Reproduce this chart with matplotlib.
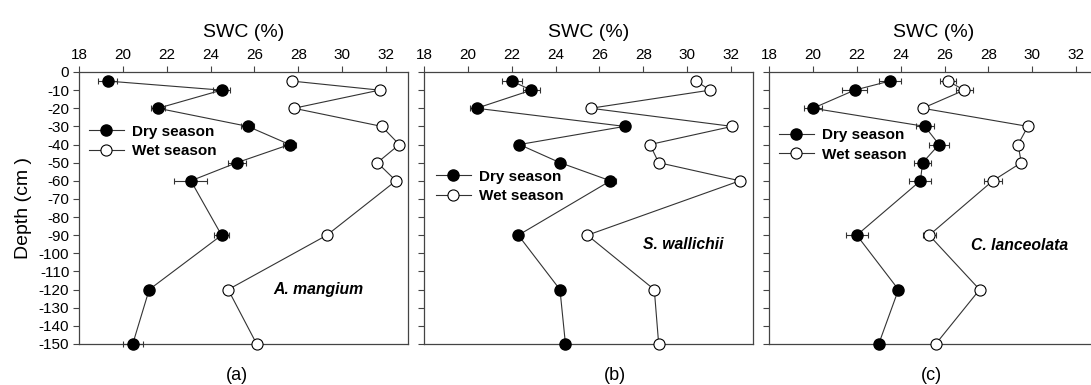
import matplotlib
matplotlib.use("Agg")
import matplotlib.pyplot as plt
from matplotlib.lines import Line2D

plt.rcParams["font.family"] = ["Liberation Sans", "DejaVu Sans"]
plt.rcParams["axes.unicode_minus"] = False

# depth of each sampling layer (cm)
depth = [-5, -10, -20, -30, -40, -50, -60, -90, -120, -150]

# soil water content (%)
dry_a = [19.3, 24.5, 21.6, 25.7, 27.6, 25.2, 23.1, 24.5, 21.2, 20.45]
dry_a_err = [0.45, 0.4, 0.3, 0.3, 0.3, 0.4, 0.75, 0.35, 0.15, 0.45]
wet_a = [27.7, 31.7, 27.8, 31.8, 32.6, 31.6, 32.45, 29.3, 24.8, 26.1]
wet_a_err = [0.1, 0.1, 0.1, 0.1, 0.1, 0.1, 0.1, 0.1, 0.1, 0.1]

dry_b = [22.0, 22.9, 20.4, 27.15, 22.35, 24.2, 26.5, 22.3, 24.2, 24.45]
dry_b_err = [0.45, 0.38, 0.3, 0.15, 0.15, 0.1, 0.25, 0.1, 0.15, 0.2]
wet_b = [30.4, 31.05, 25.6, 32.05, 28.3, 28.7, 32.4, 25.45, 28.5, 28.7]
wet_b_err = [0.1, 0.1, 0.1, 0.1, 0.1, 0.1, 0.1, 0.1, 0.1, 0.1]

dry_c = [23.5, 21.9, 20.0, 25.1, 25.75, 25.0, 24.9, 22.0, 23.9, 23.0]
dry_c_err = [0.5, 0.58, 0.42, 0.4, 0.45, 0.4, 0.5, 0.5, 0.1, 0.1]
wet_c = [26.15, 26.9, 25.0, 29.8, 29.35, 29.5, 28.2, 25.3, 27.6, 25.6]
wet_c_err = [0.35, 0.4, 0.1, 0.1, 0.1, 0.1, 0.4, 0.3, 0.1, 0.1]

species = ["A. mangium", "S. wallichii", "C. lanceolata"]
panel_tags = ["(a)", "(b)", "(c)"]
x_ticks = [18, 20, 22, 24, 26, 28, 30, 32]
y_ticks = list(range(0, -151, -10))

fig = plt.figure(figsize=(10.91, 3.85), dpi=100)

lefts = [0.0724, 0.3886, 0.7049]
ax_w, ax_b, ax_h = 0.3016, 0.1065, 0.7065

legend_pos = [(0.03, 0.745), (0.036, 0.58), (0.03, 0.732)]
species_pos = [(26.86, -120), (28.0, -95), (27.2, -95.5)]
tag_x = [25.2, 26.7, 25.4]

data = [(dry_a, dry_a_err, wet_a, wet_a_err),
        (dry_b, dry_b_err, wet_b, wet_b_err),
        (dry_c, dry_c_err, wet_c, wet_c_err)]

line_col = "#333333"
spine_col = "#444444"
ms = 8

# legend shows plain line + marker, no error bar
handles = [Line2D([], [], color=line_col, lw=0.8, marker="o", ms=ms,
                  mfc="black", mec="black"),
           Line2D([], [], color=line_col, lw=0.8, marker="o", ms=ms,
                  mfc="white", mec="black", mew=0.8)]

for i, (dry, dry_err, wet, wet_err) in enumerate(data):
    ax = fig.add_axes([lefts[i], ax_b, ax_w, ax_h])

    ax.errorbar(dry, depth, xerr=dry_err, fmt="-o", color=line_col, lw=0.8,
                mfc="black", mec="black", ms=ms, ecolor="#333333",
                elinewidth=0.8, capsize=2.5, capthick=0.8,
                clip_on=False, zorder=3)
    ax.errorbar(wet, depth, xerr=wet_err, fmt="-o", color=line_col, lw=0.8,
                mfc="white", mec="black", mew=0.8, ms=ms, ecolor="#333333",
                elinewidth=0.8, capsize=2.5, capthick=0.8,
                clip_on=False, zorder=3)

    ax.set_xlim(18, 33)
    ax.set_ylim(-150, 0)
    ax.set_xticks(x_ticks)
    ax.set_yticks(y_ticks)
    ax.xaxis.tick_top()
    ax.xaxis.set_label_position("top")
    ax.set_xlabel("SWC (%)", fontsize=14, labelpad=8)
    ax.tick_params(axis="both", direction="out", length=4, width=0.8,
                   color=spine_col, labelsize=11, pad=3)
    for sp in ax.spines.values():
        sp.set_color(spine_col)
        sp.set_linewidth(0.9)

    if i == 0:
        ax.set_ylabel("Depth (cm )", fontsize=14)
        ax.yaxis.set_label_coords(-0.143, 0.5)
    else:
        ax.set_yticklabels([])

    ax.legend(handles, ["Dry season", "Wet season"], loc="center left",
              bbox_to_anchor=legend_pos[i], frameon=False,
              prop={"weight": "bold", "size": 11}, handlelength=2.3,
              handletextpad=0.5, labelspacing=0.35, borderpad=0,
              borderaxespad=0)

    sx, sy = species_pos[i]
    ax.text(sx, sy, species[i], fontsize=11.3, fontweight="bold",
            fontstyle="italic", va="center", ha="left")

    ax.text(tag_x[i], -0.114, panel_tags[i], fontsize=13, ha="center",
            va="center", transform=ax.get_xaxis_transform())

fig.savefig("out.png", dpi=100)
